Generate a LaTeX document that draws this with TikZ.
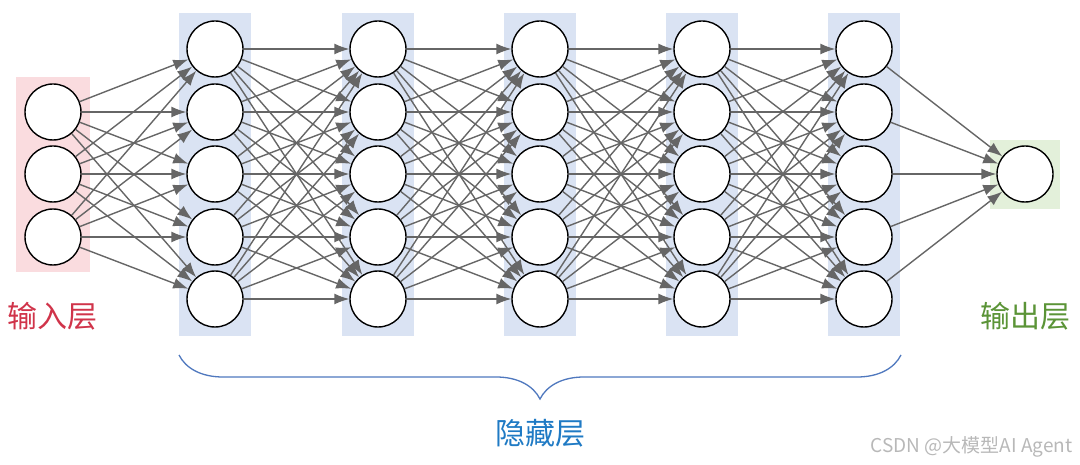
\documentclass[tikz,border=0pt]{standalone}
\usepackage{fontspec}
\newfontfamily\cjk{Noto Sans CJK SC}
\usetikzlibrary{arrows.meta,decorations.pathreplacing}
\definecolor{inbg}{HTML}{FADCDF}
\definecolor{hidbg}{HTML}{DAE3F3}
\definecolor{outbg}{HTML}{E3F0DA}
\definecolor{edgegray}{HTML}{666666}
\definecolor{inred}{HTML}{D0344A}
\definecolor{outgreen}{HTML}{5B9437}
\definecolor{hidblue}{HTML}{1F7AC4}
\definecolor{bracecol}{HTML}{4F78BE}

\begin{document}
\begin{tikzpicture}[x=1pt, y=-1pt,
        neuron/.style={circle, draw, line width=1.4pt, fill=white, minimum size=56pt, inner sep=0pt},
        link/.style={-{Latex[length=15pt,width=11pt]}, draw=edgegray, line width=1.4pt},
        layertxt/.style={font=\cjk\fontsize{30}{34}\selectfont}]
    \useasboundingbox (0,0) rectangle (1080,465);

    % layer backgrounds
    \fill[inbg] (16,77) rectangle (90,272);
    \foreach \x in {215,378,540,702,864}
        \fill[hidbg] (\x-36,13) rectangle (\x+36,336);
    \fill[outbg] (990,140) rectangle (1060,209);

    % neurons
    \foreach \r/\y in {1/112,2/174,3/237}
        \node[neuron] (i\r) at (53,\y) {};
    \foreach \c/\x in {1/215,2/378,3/540,4/702,5/864}
        \foreach \r/\y in {1/49,2/112,3/174,4/237,5/299}
            \node[neuron] (h\c-\r) at (\x,\y) {};
    \node[neuron] (out) at (1025,174) {};

    % connections
    \foreach \a in {1,...,3}
        \foreach \b in {1,...,5}
            \draw[link] (i\a) -- (h1-\b);
    \foreach \c [evaluate=\c as \n using int(\c+1)] in {1,...,4}
        \foreach \a in {1,...,5}
            \foreach \b in {1,...,5}
                \draw[link] (h\c-\a) -- (h\n-\b);
    \foreach \a in {1,...,5}
        \draw[link] (h5-\a) -- (out);

    % labels
    \node[layertxt, text=inred] (inlabel) at (53,316) {输入层};
    \node[layertxt, text=outgreen] (outlabel) at (1025,316) {输出层};
    \draw[bracecol, line width=1.3pt, decorate, decoration={brace, mirror, amplitude=44pt}]
        (179,355) -- (901,355);
    \node[layertxt, text=hidblue] (hidlabel) at (540,433) {隐藏层};
    \node[font=\cjk\fontsize{19}{22}\selectfont, text=black!28, anchor=east] (mark) at (1076,447) {CSDN @大模型AI Agent};
\end{tikzpicture}
\end{document}
